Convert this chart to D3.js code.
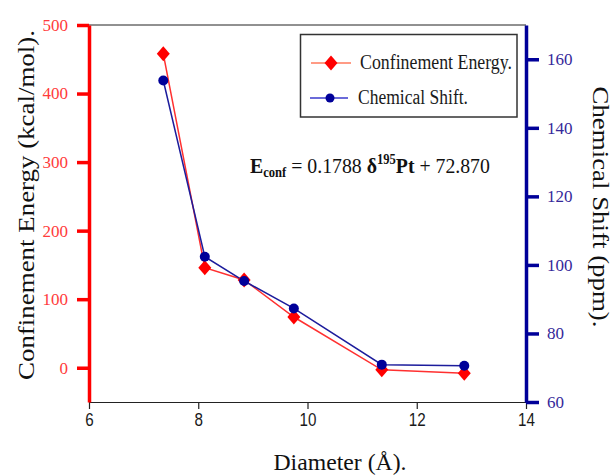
<!DOCTYPE html>
<html lang="en">
<head>
    <meta charset="UTF-8">
    <title>Confinement energy vs diameter</title>
    <script src="https://d3js.org/d3.v7.min.js"></script>
    <style>
        body { margin: 0; background: #fff; }
        text { font-family: "Liberation Serif", "Times New Roman", serif; }
    </style>
</head>
<body>
<svg></svg>
<script>

    var width = 615;
    var height = 476;
    var serif = "'Liberation Serif', 'Times New Roman', serif";

    // values
    var diameter = [7.36, 8.12, 8.84, 9.75, 11.36, 12.87];
    var energy = [458, 146, 128, 74, -3, -8];
    var shift = [153.8, 102.4, 95.3, 87.3, 70.9, 70.6];

    var xTicks = [6, 8, 10, 12, 14];
    var xMinor = [7, 9, 11, 13];
    var leftTicks = [0, 100, 200, 300, 400, 500];
    var leftMinor = [-50, 50, 150, 250, 350, 450];
    var rightTicks = [60, 80, 100, 120, 140, 160];
    var rightMinor = [70, 90, 110, 130, 150, 170];

    var svg = d3.select("svg").attr("width", width).attr("height", height);

    var xScale = d3.scaleLinear().domain([6, 14]).range([89, 526]);
    var yLeft = d3.scaleLinear().domain([-50, 500]).range([402, 25]);
    var yRight = d3.scaleLinear().domain([60, 170]).range([402, 25]);

    var red = "#ff0000", navy = "#000099";

    // top frame line
    svg.append("line")
        .attr("x1", xScale(6)).attr("x2", xScale(14))
        .attr("y1", yLeft(500)).attr("y2", yLeft(500))
        .attr("stroke", "#222").attr("stroke-width", 1);

    // bottom axis
    var gx = svg.append("g").attr("transform", "translate(0," + yLeft(-50) + ")");
    gx.call(d3.axisBottom(xScale).tickValues(xMinor).tickSize(4).tickSizeOuter(0).tickFormat(""));
    gx.call(d3.axisBottom(xScale).tickValues(xTicks).tickSize(7).tickSizeOuter(0).tickPadding(4));
    gx.selectAll("path").attr("stroke", "#222");
    gx.selectAll("line").attr("stroke", "#222").attr("stroke-width", 1.2);
    gx.selectAll("text")
        .attr("fill", "#1a1a1a")
        .style("font-family", "'Liberation Sans', Arial, sans-serif")
        .style("font-size", "19px")
        .attr("transform", "scale(0.8,1)");

    // left axis
    var gl = svg.append("g").attr("transform", "translate(" + xScale(6) + ",0)");
    gl.call(d3.axisLeft(yLeft).tickValues(leftMinor).tickSize(7).tickSizeOuter(0).tickFormat(""));
    gl.call(d3.axisLeft(yLeft).tickValues(leftTicks).tickSize(12).tickSizeOuter(0).tickPadding(9));
    gl.selectAll("path").attr("stroke", red).attr("stroke-width", 3.5);
    gl.selectAll("line").attr("stroke", red).attr("stroke-width", 3.5);
    gl.selectAll("text")
        .attr("fill", "#ff3b3b")
        .style("font-family", serif)
        .style("font-size", "17px");

    // right axis
    var gr = svg.append("g").attr("transform", "translate(" + xScale(14) + ",0)");
    gr.call(d3.axisRight(yRight).tickValues(rightMinor).tickSize(7).tickSizeOuter(0).tickFormat(""));
    gr.call(d3.axisRight(yRight).tickValues(rightTicks).tickSize(13).tickSizeOuter(0).tickPadding(8));
    gr.selectAll("path").attr("stroke", navy).attr("stroke-width", 3.5);
    gr.selectAll("line").attr("stroke", navy).attr("stroke-width", 3.5);
    gr.selectAll("text")
        .attr("fill", "#35289a")
        .style("font-family", serif)
        .style("font-size", "17px");

    var diamond = function (w, h) {
        return "M0," + (-h) + "L" + w + ",0L0," + h + "L" + (-w) + ",0Z";
    };

    // confinement energy series
    var redLine = d3.line()
        .x(function (d, i) { return xScale(diameter[i]); })
        .y(function (d) { return yLeft(d); });
    svg.append("path").datum(energy)
        .attr("d", redLine)
        .attr("fill", "none").attr("stroke", "#ff3030").attr("stroke-width", 1.5);

    // chemical shift series
    var blueLine = d3.line()
        .x(function (d, i) { return xScale(diameter[i]); })
        .y(function (d) { return yRight(d); });
    svg.append("path").datum(shift)
        .attr("d", blueLine)
        .attr("fill", "none").attr("stroke", "#1c1c9c").attr("stroke-width", 1.5);

    svg.selectAll(".redpt")
        .data(energy)
        .enter()
        .append("path")
        .attr("class", "redpt")
        .attr("transform", function (d, i) {
            return "translate(" + xScale(diameter[i]) + "," + yLeft(d) + ")";
        })
        .attr("d", diamond(6.5, 7.5))
        .attr("fill", red);

    svg.selectAll(".bluept")
        .data(shift)
        .enter()
        .append("circle")
        .attr("class", "bluept")
        .attr("cx", function (d, i) { return xScale(diameter[i]); })
        .attr("cy", function (d) { return yRight(d); })
        .attr("r", 5)
        .attr("fill", navy);

    // legend
    var legend = svg.append("g");
    legend.append("rect")
        .attr("x", 300.5).attr("y", 34.5).attr("width", 216.5).attr("height", 82.5)
        .attr("fill", "#fff").attr("stroke", "#333").attr("stroke-width", 1.5);

    legend.append("line")
        .attr("x1", 311).attr("x2", 351).attr("y1", 63).attr("y2", 63)
        .attr("stroke", "#ff7a5c").attr("stroke-width", 1.5);
    legend.append("path")
        .attr("transform", "translate(331,63)")
        .attr("d", diamond(6.5, 7.5)).attr("fill", red);
    legend.append("text")
        .attr("x", 360).attr("y", 69)
        .attr("textLength", 152).attr("lengthAdjust", "spacingAndGlyphs")
        .style("font-family", serif)
        .style("font-size", "20px").attr("fill", "#1a1a1a")
        .text("Confinement Energy.");

    legend.append("line")
        .attr("x1", 310).attr("x2", 348).attr("y1", 98).attr("y2", 98)
        .attr("stroke", "#3a3acc").attr("stroke-width", 1.5);
    legend.append("circle")
        .attr("cx", 330).attr("cy", 98).attr("r", 4.5).attr("fill", navy);
    legend.append("text")
        .attr("x", 358).attr("y", 104)
        .attr("textLength", 110).attr("lengthAdjust", "spacingAndGlyphs")
        .style("font-family", serif)
        .style("font-size", "20px").attr("fill", "#1a1a1a")
        .text("Chemical Shift.");

    // equation
    var eq = svg.append("text")
        .attr("transform", "translate(250,173) scale(0.9,1)")
        .style("font-family", serif)
        .style("font-size", "22px").attr("fill", "#111");
    eq.append("tspan").style("font-weight", "bold").text("E");
    eq.append("tspan").style("font-weight", "bold").style("font-size", "14px").attr("dy", 4).text("conf");
    eq.append("tspan").attr("dy", -4).text(" = 0.1788 ");
    eq.append("tspan").style("font-weight", "bold").text("\u03B4");
    eq.append("tspan").style("font-weight", "bold").style("font-size", "14px").attr("dy", -9).text("195");
    eq.append("tspan").style("font-weight", "bold").attr("dy", 9).text("Pt");
    eq.append("tspan").text(" + 72.870");

    // axis titles
    svg.append("text")
        .attr("transform", "translate(340,470)")
        .attr("text-anchor", "middle")
        .attr("textLength", 133).attr("lengthAdjust", "spacingAndGlyphs")
        .style("font-family", serif)
        .style("font-size", "23px").attr("fill", "#111")
        .text("Diameter (\u00C5).");

    svg.append("text")
        .attr("transform", "translate(26,205) rotate(-90)")
        .attr("text-anchor", "middle").attr("dominant-baseline", "central")
        .attr("textLength", 350).attr("lengthAdjust", "spacingAndGlyphs")
        .style("font-family", serif)
        .style("font-size", "23px").attr("fill", "#111")
        .text("Confinement Energy (kcal/mol).");

    svg.append("text")
        .attr("transform", "translate(600,207) rotate(90)")
        .attr("text-anchor", "middle").attr("dominant-baseline", "central")
        .attr("textLength", 241).attr("lengthAdjust", "spacingAndGlyphs")
        .style("font-family", serif)
        .style("font-size", "23px").attr("fill", "#111")
        .text("Chemical Shift (ppm).");

</script>
</body>
</html>
